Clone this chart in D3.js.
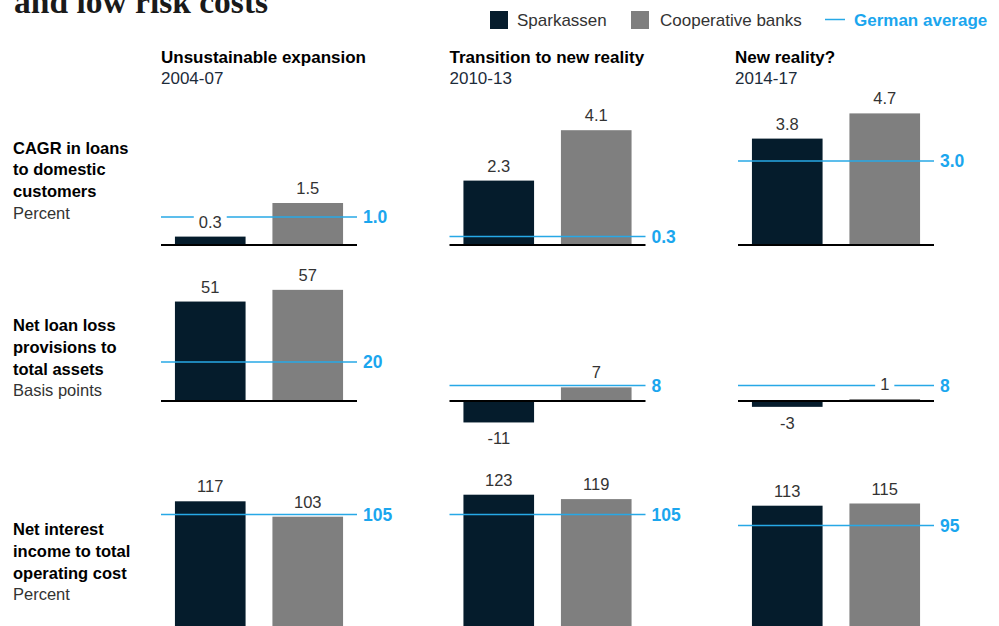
<!DOCTYPE html>
<html>
<head>
<meta charset="utf-8">
<script src="https://cdn.jsdelivr.net/npm/d3@7"></script>
<style>
  html, body { margin: 0; padding: 0; background: #fff; }
  svg { display: block; font-family: "Liberation Sans", Arial, sans-serif; }
</style>
</head>
<body>
<svg id="chart" width="999" height="626"></svg>
<script>
// ---- data ----
const periodTitles = ["Unsustainable expansion", "Transition to new reality", "New reality?"];
const periodYears = ["2004-07", "2010-13", "2014-17"];
const seriesNames = ["Sparkassen", "Cooperative banks"];
const metricTitles = [
  ["CAGR in loans", "to domestic", "customers"],
  ["Net loan loss", "provisions to", "total assets"],
  ["Net interest", "income to total", "operating cost"]
];
const metricUnits = ["Percent", "Basis points", "Percent"];
// rows = metrics, columns = periods
const sparkassen = [[0.3, 2.3, 3.8], [51, -11, -3], [117, 123, 113]];
const cooperative = [[1.5, 4.1, 4.7], [57, 7, 1], [103, 119, 115]];
const germanAverage = [[1.0, 0.3, 3.0], [20, 8, 8], [105, 105, 95]];
const decimals = [1, 0, 0];
const averageLabel = "German average";
const titleTail = "and low risk costs";

// ---- layout ----
const colors = { spk: "#051c2c", coop: "#7f7f7f", avg: "#27a8e6", avgText: "#1ba6ee", base: "#000" };
const colX = [161, 449.5, 738];
const panelW = 196;
const rowY = [
  { domain: [0, 5], range: [245, 105] },
  { domain: [0, 60], range: [401, 284] },
  { domain: [0, 130], range: [630, 487] }
];

const svg = d3.select("#chart");

// heading tail (the rest sits above the visible area)
svg.append("text")
  .attr("x", 14).attr("y", 13)
  .attr("font-family", "'Liberation Serif', 'DejaVu Serif', serif")
  .attr("font-weight", "bold").attr("font-size", 33.5)
  .attr("fill", "#1a1a1a")
  .text(titleTail);

// ---- legend ----
const legend = svg.append("g");
legend.append("rect").attr("x", 490).attr("y", 11).attr("width", 18).attr("height", 18).attr("fill", colors.spk);
legend.append("text").attr("x", 517).attr("y", 26).attr("font-size", 17).attr("fill", "#333").text(seriesNames[0]);
legend.append("rect").attr("x", 631).attr("y", 11).attr("width", 18).attr("height", 18).attr("fill", colors.coop);
legend.append("text").attr("x", 660).attr("y", 26).attr("font-size", 17).attr("fill", "#333").text(seriesNames[1]);
legend.append("line").attr("x1", 825).attr("x2", 845).attr("y1", 19.5).attr("y2", 19.5)
  .attr("stroke", colors.avg).attr("stroke-width", 1.5);
legend.append("text").attr("x", 854).attr("y", 26).attr("font-size", 17).attr("font-weight", "bold")
  .attr("fill", colors.avgText).text(averageLabel);

// ---- column headers ----
periodTitles.forEach((t, c) => {
  const x = c === 2 ? colX[c] - 3 : colX[c];
  svg.append("text").attr("x", x).attr("y", 63).attr("font-size", 17).attr("font-weight", "bold")
    .attr("fill", "#000").text(t);
  svg.append("text").attr("x", x).attr("y", 84).attr("font-size", 17)
    .attr("fill", "#1c2b3a").text(periodYears[c]);
});

// ---- row labels ----
const rowLabelY = [153.5, 331, 535];
metricTitles.forEach((lines, r) => {
  const t = svg.append("text").attr("x", 13).attr("y", rowLabelY[r]).attr("font-size", 16.5);
  lines.forEach((l, i) => {
    t.append("tspan").attr("x", 13).attr("dy", i === 0 ? 0 : 21.8)
      .attr("font-weight", "bold").attr("fill", "#000").text(l);
  });
  t.append("tspan").attr("x", 13).attr("dy", 21.8).attr("fill", "#333").text(metricUnits[r]);
});

// ---- panels ----
const xBand = d3.scaleBand().domain(seriesNames).range([0, panelW])
  .paddingInner(0.2755).paddingOuter(0.143);

for (let r = 0; r < 3; r++) {
  const y = d3.scaleLinear().domain(rowY[r].domain).range(rowY[r].range);
  const fmt = v => v.toFixed(decimals[r]);
  for (let c = 0; c < 3; c++) {
    const g = svg.append("g").attr("transform", `translate(${colX[c]},0)`);
    const vals = [
      { name: seriesNames[0], v: sparkassen[r][c], color: colors.spk },
      { name: seriesNames[1], v: cooperative[r][c], color: colors.coop }
    ];
    // bars
    g.selectAll("rect.bar").data(vals).join("rect").attr("class", "bar")
      .attr("x", d => xBand(d.name))
      .attr("width", xBand.bandwidth())
      .attr("y", d => Math.min(y(d.v), y(0)))
      .attr("height", d => Math.abs(y(d.v) - y(0)))
      .attr("fill", d => d.color);
    // zero baseline
    g.append("line").attr("x1", 0).attr("x2", panelW).attr("y1", y(0)).attr("y2", y(0))
      .attr("stroke", colors.base).attr("stroke-width", 2);
    // German average line
    const avg = germanAverage[r][c];
    g.append("line").attr("x1", 0).attr("x2", panelW).attr("y1", y(avg)).attr("y2", y(avg))
      .attr("stroke", colors.avg).attr("stroke-width", 1.5);
    g.append("text").attr("x", panelW + 6).attr("y", y(avg)).attr("dy", "0.36em")
      .attr("font-size", 17.5).attr("font-weight", "bold").attr("fill", colors.avgText)
      .text(fmt(avg));
    // value labels with a white knock-out behind them
    vals.forEach(d => {
      const cx = xBand(d.name) + xBand.bandwidth() / 2;
      const ty = d.v >= 0 ? y(d.v) - 9 : y(d.v) + 22;
      const lg = g.append("g");
      const bg = lg.append("rect").attr("fill", "#fff");
      const tx = lg.append("text").attr("x", cx).attr("y", ty).attr("text-anchor", "middle")
        .attr("font-size", 16.5).attr("fill", "#333").text(fmt(d.v));
      const bb = tx.node().getBBox();
      bg.attr("x", bb.x - 5).attr("width", bb.width + 10)
        .attr("y", ty - 12.5).attr("height", 15);
    });
  }
}
</script>
</body>
</html>
